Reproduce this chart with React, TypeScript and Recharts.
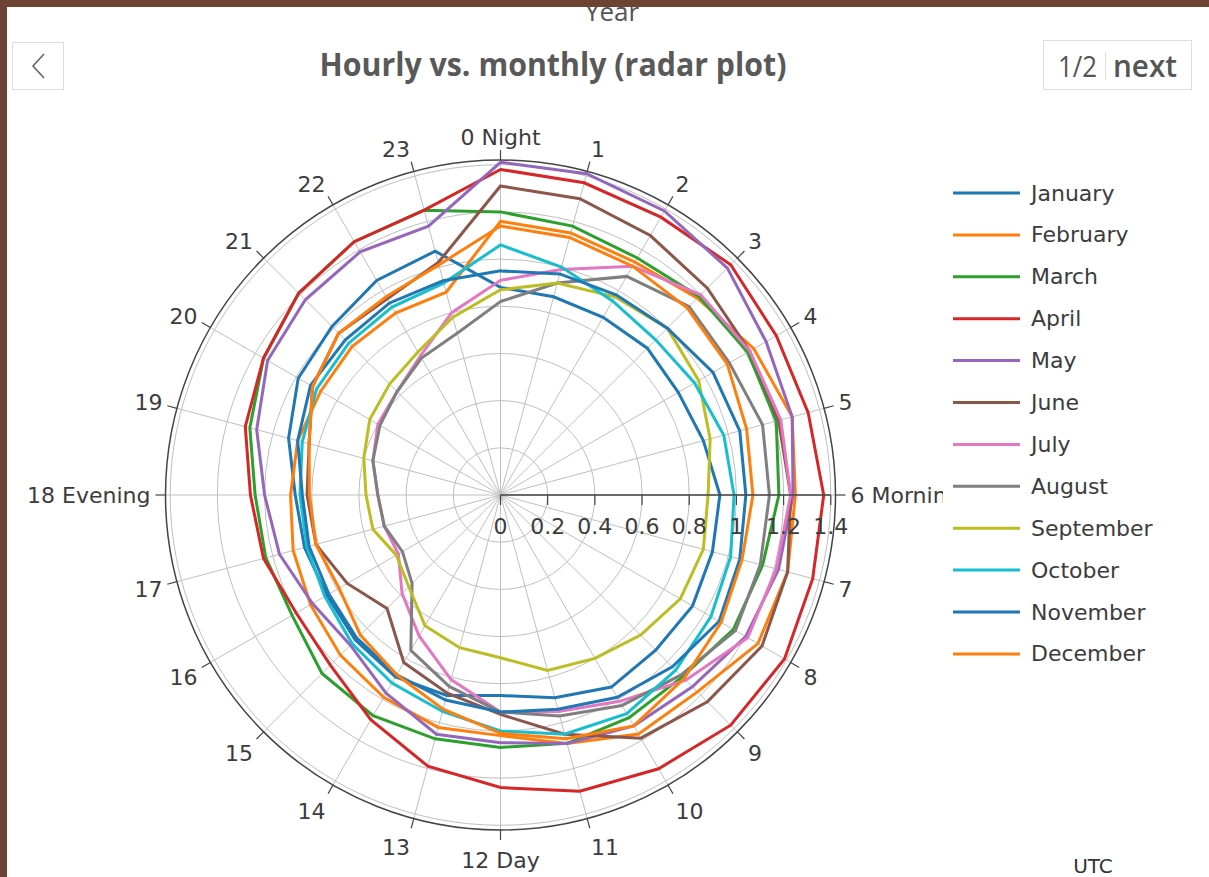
import React from "react";
import { PolarAngleAxis, PolarGrid, PolarRadiusAxis, Radar, RadarChart } from "recharts";

const hours = [
  "0 Night", "1", "2", "3", "4", "5", "6 Morning", "7", "8", "9", "10", "11",
  "12 Day", "13", "14", "15", "16", "17", "18 Evening", "19", "20", "21", "22", "23",
];

const months = [
  "January", "February", "March", "April", "May", "June",
  "July", "August", "September", "October", "November", "December",
];

const colors = [
  "#1f77b4", "#ff7f0e", "#2ca02c", "#d62728", "#9467bd", "#8c564b",
  "#e377c2", "#7f7f7f", "#bcbd22", "#17becf", "#1f77b4", "#ff7f0e",
];

// values per hour, 0..23
const january = [0.88, 0.87, 0.87, 0.88, 0.87, 0.89, 0.93, 0.93, 0.94, 0.93, 0.94, 0.89, 0.85, 0.88, 0.89, 0.87, 0.85, 0.86, 0.87, 0.93, 0.99, 1.01, 1.05, 1.07];
const february = [1.16, 1.15, 1.14, 1.18, 1.24, 1.28, 1.25, 1.26, 1.26, 1.18, 1.17, 1.09, 1.02, 1.02, 0.99, 0.96, 0.93, 0.91, 0.89, 0.89, 0.88, 0.89, 0.89, 0.89];
const march = [1.2, 1.18, 1.16, 1.19, 1.21, 1.21, 1.18, 1.15, 1.14, 1.09, 1.09, 1.09, 1.07, 1.07, 1.08, 1.07, 1.02, 1.03, 1.04, 1.1, 1.16, 1.21, 1.24, 1.25];
const april = [1.38, 1.37, 1.36, 1.38, 1.35, 1.35, 1.37, 1.37, 1.39, 1.38, 1.34, 1.3, 1.24, 1.19, 1.1, 1.02, 1.0, 1.04, 1.06, 1.12, 1.16, 1.21, 1.24, 1.25];
const may = [1.41, 1.41, 1.39, 1.36, 1.3, 1.28, 1.24, 1.22, 1.2, 1.15, 1.13, 1.09, 1.05, 1.05, 0.97, 0.9, 0.92, 0.97, 1.0, 1.07, 1.14, 1.17, 1.19, 1.18];
const june = [1.31, 1.3, 1.27, 1.24, 1.22, 1.22, 1.23, 1.26, 1.28, 1.24, 1.19, 1.05, 0.93, 0.87, 0.82, 0.68, 0.75, 0.81, 0.82, 0.84, 0.92, 0.97, 0.96, 1.02];
const july = [0.91, 0.99, 1.12, 1.2, 1.22, 1.23, 1.23, 1.21, 1.21, 1.11, 1.01, 0.95, 0.92, 0.81, 0.69, 0.59, 0.5, 0.51, 0.52, 0.56, 0.6, 0.62, 0.68, 0.8];
const august = [0.82, 0.93, 1.07, 1.13, 1.12, 1.15, 1.14, 1.14, 1.15, 1.08, 1.03, 0.97, 0.92, 0.84, 0.76, 0.53, 0.48, 0.51, 0.52, 0.56, 0.59, 0.62, 0.67, 0.71];
const september = [0.87, 0.93, 0.97, 1.0, 0.97, 0.92, 0.88, 0.89, 0.88, 0.84, 0.8, 0.77, 0.69, 0.67, 0.64, 0.55, 0.51, 0.56, 0.57, 0.6, 0.64, 0.665, 0.7, 0.78];
const october = [1.06, 1.0, 0.95, 0.93, 0.95, 0.98, 0.99, 1.01, 1.03, 1.05, 1.07, 1.05, 1.0, 0.95, 0.92, 0.89, 0.86, 0.85, 0.85, 0.87, 0.9, 0.91, 0.92, 0.93];
const november = [0.95, 0.97, 0.98, 1.0, 1.04, 1.05, 1.04, 1.05, 1.07, 1.03, 0.99, 0.94, 0.92, 0.9, 0.88, 0.86, 0.84, 0.84, 0.84, 0.89, 0.93, 0.93, 0.94, 0.94];
const december = [1.14, 1.13, 1.12, 1.12, 1.11, 1.08, 1.07, 1.06, 1.08, 1.1, 1.13, 1.07, 1.01, 0.94, 0.88, 0.84, 0.79, 0.81, 0.81, 0.84, 0.92, 0.97, 0.97, 1.01];

const series = [
  january, february, march, april, may, june,
  july, august, september, october, november, december,
];

const radiusTicks = [0, 0.2, 0.4, 0.6, 0.8, 1, 1.2, 1.4];

const data = hours.map((hour, i) => {
  const row: Record<string, string | number> = { hour };
  months.forEach((m, k) => {
    row[m] = series[k][i];
  });
  return row;
});

const W = 1209;
const H = 877;
const CX = 500.5;
const CY = 495;
const OUTER = 335;
const FONT = "'DejaVu Sans', Verdana, sans-serif";

function AngleTick(props: any) {
  const { payload } = props;
  const idx = hours.indexOf(payload.value);
  const deg = 90 - idx * 15;
  const rad = (deg * Math.PI) / 180;
  const c = Math.cos(rad);
  const s = Math.sin(rad);
  const x = CX + c * 350;
  const y = CY - s * 350;
  const anchor = c > 0.05 ? "start" : c < -0.05 ? "end" : "middle";
  const dy = s > 0 ? -s * 8 : -s * 15;
  const clipId = `angle-clip-${idx}`;
  return (
    <g>
      <defs>
        <clipPath id={clipId}>
          <rect x={0} y={0} width={943} height={H} />
        </clipPath>
      </defs>
      <text
        x={x}
        y={y + dy}
        textAnchor={anchor}
        dominantBaseline="central"
        fontFamily={FONT}
        fontSize={22}
        fill="#3c3c3c"
        clipPath={`url(#${clipId})`}
      >
        {payload.value}
      </text>
    </g>
  );
}

function RadiusTick(props: any) {
  const { x, y, payload } = props;
  if (!radiusTicks.includes(payload.value)) return null;
  return (
    <g>
      <line x1={x} y1={y} x2={x} y2={y + 10} stroke="#444" strokeWidth={1.2} />
      <text
        x={x}
        y={y + 31}
        textAnchor="middle"
        dominantBaseline="central"
        fontFamily={FONT}
        fontSize={22}
        fill="#3c3c3c"
      >
        {String(payload.value)}
      </text>
    </g>
  );
}

export default function App() {
  return (
    <div
      style={{
        position: "absolute",
        left: 0,
        top: 0,
        width: W,
        height: H,
        background: "#fff",
        overflow: "hidden",
      }}
    >
      <div style={{ position: "absolute", left: 0, top: 0 }}>
        <RadarChart
          width={W}
          height={H}
          cx={CX}
          cy={CY}
          outerRadius={OUTER}
          startAngle={90}
          endAngle={-270}
          data={data}
          margin={{ top: 0, right: 0, bottom: 0, left: 0 }}
        >
          <PolarGrid gridType="circle" stroke="#bfbfbf" strokeWidth={1} />
          <PolarAngleAxis
            dataKey="hour"
            axisLineType="circle"
            axisLine={{ stroke: "#444", strokeWidth: 1.5 }}
            tickLine={{ stroke: "#444", strokeWidth: 1.2 }}
            tickSize={10}
            tick={<AngleTick />}
          />
          <PolarRadiusAxis
            angle={0}
            domain={[0, 1.42]}
            ticks={radiusTicks as any}
            tickCount={8}
            axisLine={{ stroke: "#444", strokeWidth: 1.5 }}
            tick={<RadiusTick />}
          />
          {months.map((m, k) => (
            <Radar
              key={m}
              name={m}
              dataKey={m}
              stroke={colors[k]}
              strokeWidth={3}
              fill="none"
              fillOpacity={0}
              dot={false}
              isAnimationActive={false}
            />
          ))}
        </RadarChart>
      </div>

      <svg
        width={W}
        height={H}
        style={{ position: "absolute", left: 0, top: 0, pointerEvents: "none" }}
      >
        <text
          x={612}
          y={21}
          textAnchor="middle"
          fontFamily="'Open Sans', sans-serif"
          fontSize={26}
          fill="#555"
        >
          Year
        </text>
        <rect x={0} y={0} width={W} height={7} fill="#6d4434" />
        <rect x={0} y={0} width={7} height={H} fill="#6d4434" />

        <rect x={12.5} y={42.5} width={51} height={47} fill="#fff" stroke="#dddddd" />
        <polyline points="44,54 33,66 44,78" fill="none" stroke="#666" strokeWidth={1.6} />

        <text
          x={553}
          y={76}
          textAnchor="middle"
          fontFamily="'Open Sans', sans-serif"
          fontWeight={700}
          fontSize={32}
          fill="#595959"
          textLength={467}
          lengthAdjust="spacingAndGlyphs"
        >
          Hourly vs. monthly (radar plot)
        </text>

        <rect x={1043.5} y={40.5} width={148} height={49} fill="#fff" stroke="#dddddd" />
        <text
          x={1058}
          y={77}
          fontFamily="'Open Sans', sans-serif"
          fontSize={30}
          fill="#555"
          textLength={39}
          lengthAdjust="spacingAndGlyphs"
        >
          1/2
        </text>
        <line x1={1105.5} y1={52} x2={1105.5} y2={80} stroke="#ddd" />
        <text
          x={1113}
          y={77}
          fontFamily="'Open Sans', sans-serif"
          fontWeight={600}
          fontSize={30}
          fill="#555"
          textLength={64}
          lengthAdjust="spacingAndGlyphs"
        >
          next
        </text>

        {months.map((m, k) => {
          const y = 193 + k * 41.9;
          return (
            <g key={m}>
              <line x1={953} y1={y} x2={1020} y2={y} stroke={colors[k]} strokeWidth={3} />
              <text
                x={1031}
                y={y}
                dominantBaseline="central"
                fontFamily={FONT}
                fontSize={22}
                fill="#3c3c3c"
              >
                {m}
              </text>
            </g>
          );
        })}

        <text
          x={1093}
          y={866}
          textAnchor="middle"
          dominantBaseline="central"
          fontFamily={FONT}
          fontSize={20}
          fill="#333"
        >
          UTC
        </text>
      </svg>
    </div>
  );
}
